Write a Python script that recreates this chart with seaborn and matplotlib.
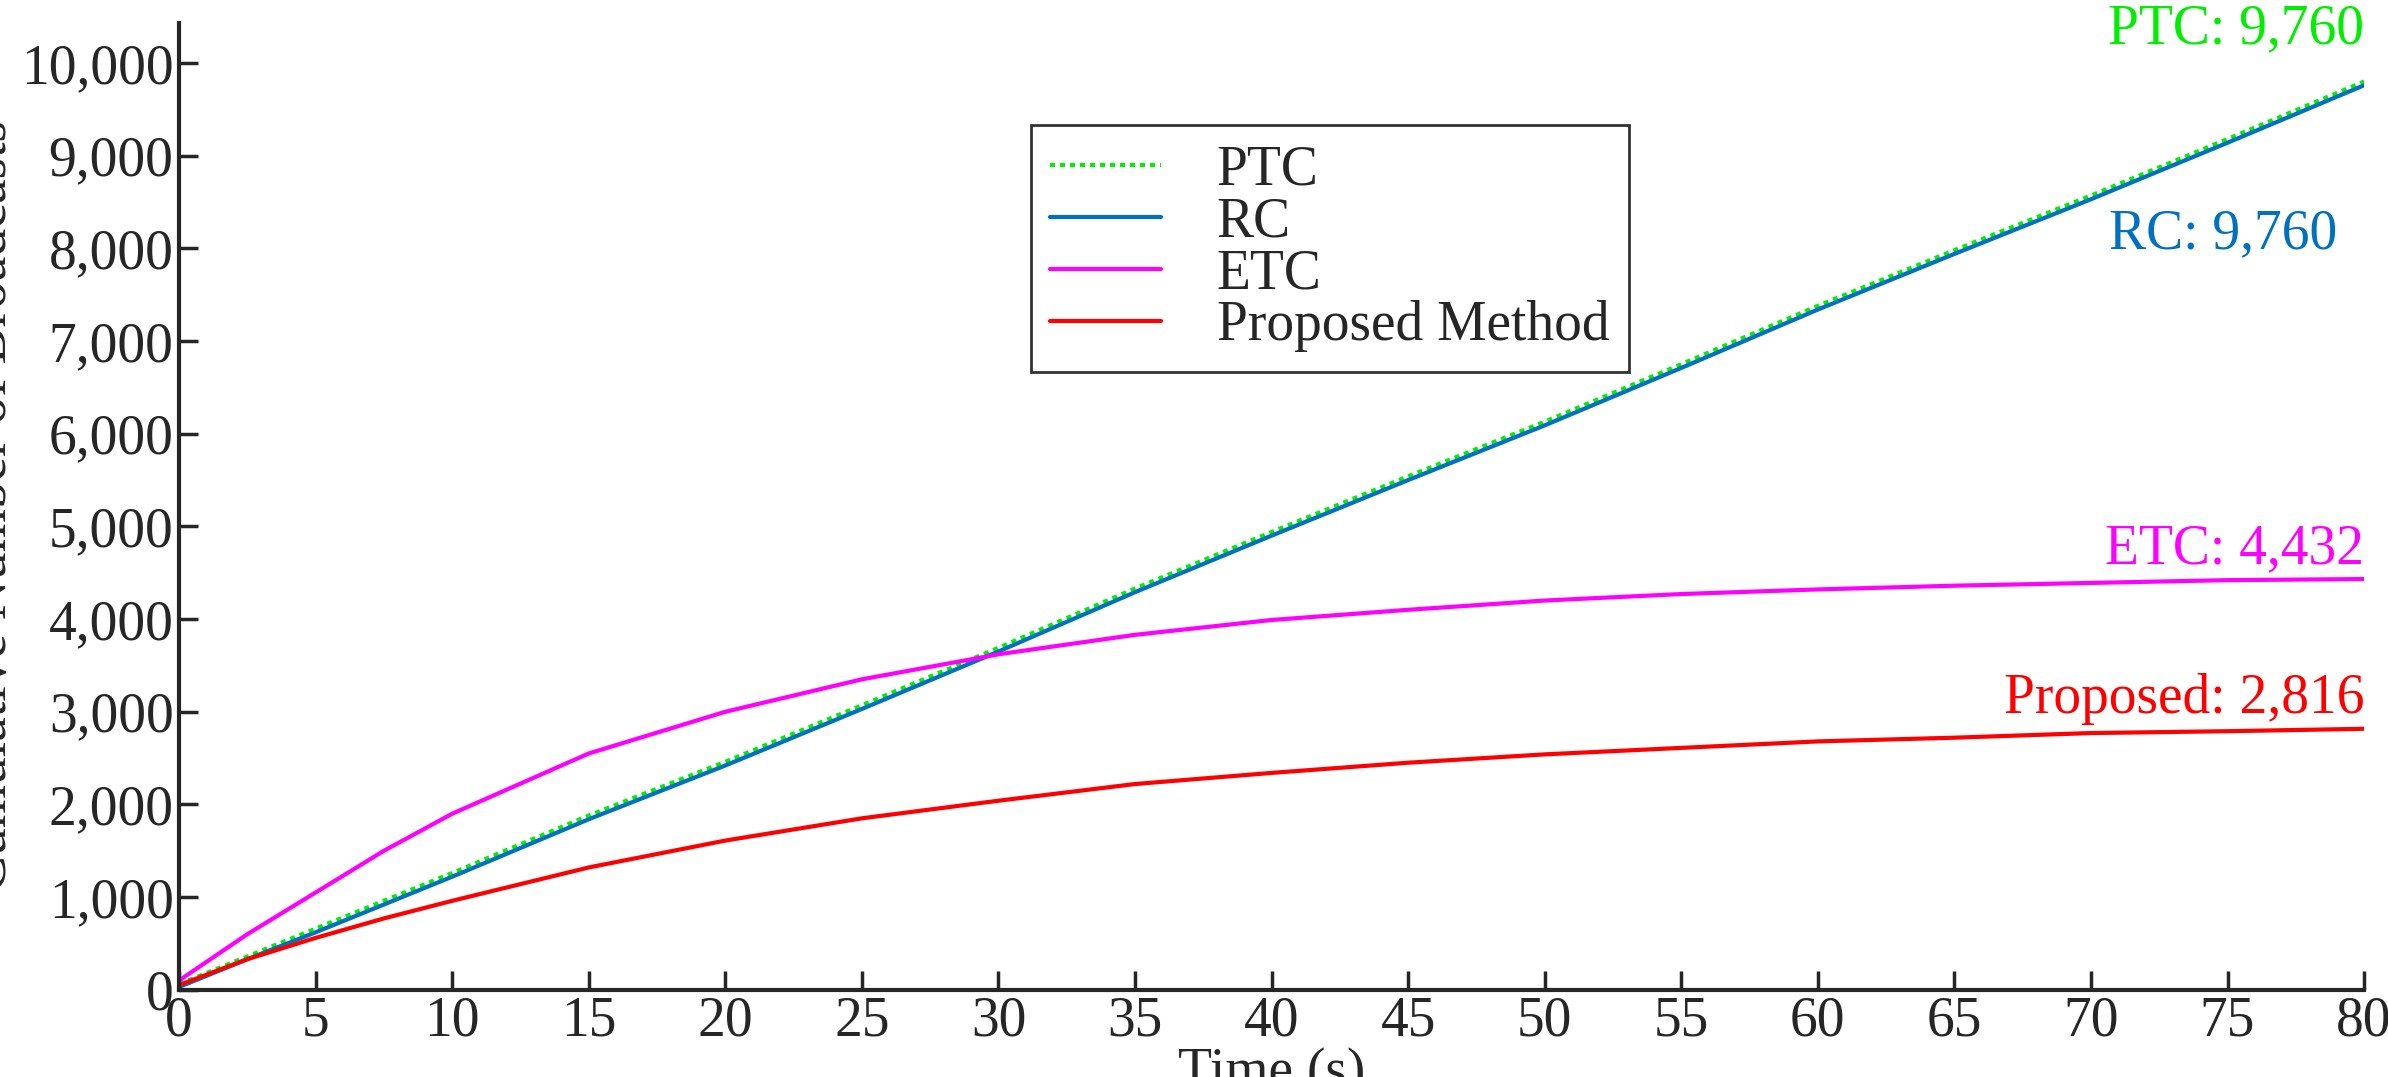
import numpy as np
import pandas as pd
import seaborn as sns
import matplotlib.pyplot as plt

time_s = [0, 2.5, 5, 7.5, 10, 15, 20, 25, 30, 35, 40, 45, 50, 55, 60, 65, 70, 75, 80]
ptc = [60, 360, 660, 960, 1260, 1880, 2460, 3070, 3690, 4330, 4940, 5540, 6130, 6750, 7380, 7980, 8570, 9180, 9800]
rc = [30, 330, 620, 920, 1220, 1840, 2420, 3030, 3650, 4290, 4900, 5500, 6090, 6710, 7340, 7940, 8530, 9140, 9760]
etc = [100, 600, 1050, 1500, 1900, 2550, 3000, 3350, 3620, 3830, 3990, 4100, 4200, 4270, 4320, 4360, 4390, 4420, 4432]
proposed = [50, 330, 560, 770, 960, 1320, 1610, 1850, 2040, 2220, 2340, 2450, 2540, 2610, 2680, 2720, 2770, 2790, 2816]

df = pd.DataFrame({"Time": time_s, "PTC": ptc, "RC": rc, "ETC": etc, "Proposed Method": proposed})

sns.set_style("ticks")
plt.rcParams['font.family'] = ['Liberation Serif', 'DejaVu Serif']

fig = plt.figure(figsize=(23.88, 10.77), dpi=100)
ax = fig.add_axes([0.075, 0.081, 0.915, 0.898])

sns.lineplot(data=df, x="Time", y="PTC", ax=ax, color="#00EE00", linestyle=(0, (1.2, 1.2)), lw=3, label="PTC")
sns.lineplot(data=df, x="Time", y="RC", ax=ax, color="#0070C0", lw=3, label="RC")
sns.lineplot(data=df, x="Time", y="ETC", ax=ax, color="#FF00FF", lw=3, label="ETC")
sns.lineplot(data=df, x="Time", y="Proposed Method", ax=ax, color="#FF0000", lw=3, label="Proposed Method")

fs = 40
ax.set_xlim(0, 80)
ax.set_ylim(0, 10436)
ax.set_xticks(range(0, 81, 5))
ax.set_yticks(range(0, 10001, 1000))
ax.set_yticklabels([f"{v:,}" for v in range(0, 10001, 1000)])
ax.tick_params(axis='both', direction='in', length=14, width=2.5, labelsize=fs, pad=4)
for s in ["top", "right"]:
    ax.spines[s].set_visible(False)
for s in ["left", "bottom"]:
    ax.spines[s].set_linewidth(3)
ax.set_xlabel("Time (s)", fontsize=fs, labelpad=0)
ax.set_ylabel("Cumulative Number of Broadcasts", fontsize=fs, labelpad=2)

ax.text(80, 10080, "PTC: 9,760", color="#00EE00", fontsize=fs, ha="right", va="bottom")
ax.text(79, 8150, "RC: 9,760", color="#0070C0", fontsize=fs, ha="right", va="center")
ax.text(80, 4470, "ETC: 4,432", color="#FF00FF", fontsize=fs, ha="right", va="bottom")
ax.text(80, 2860, "Proposed: 2,816", color="#FF0000", fontsize=fs, ha="right", va="bottom")

leg = ax.legend(loc="upper left", bbox_to_anchor=(0.42, 0.91), bbox_transform=fig.transFigure,
                fontsize=fs, frameon=True, fancybox=False, edgecolor="black",
                handlelength=2.0, labelspacing=0.0, borderpad=0.35, handletextpad=1.0)
leg.get_frame().set_linewidth(2)

fig.savefig("out.png", dpi=100)
